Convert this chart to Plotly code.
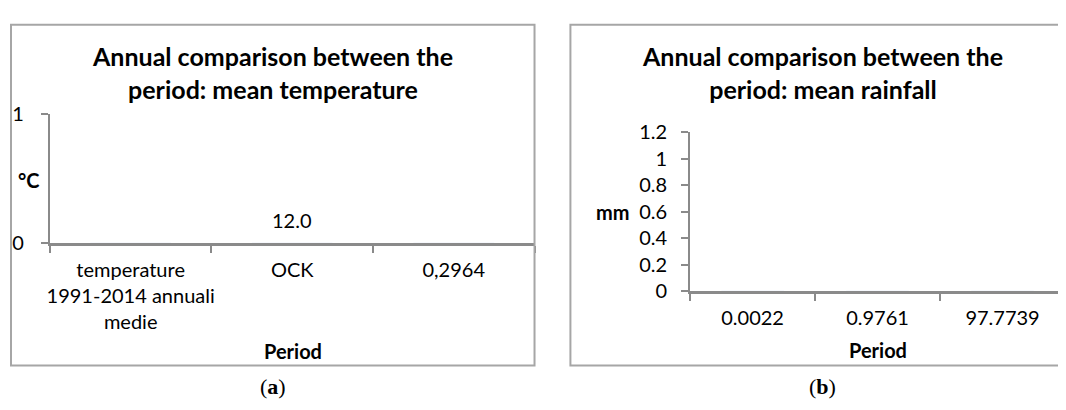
import plotly.graph_objects as go

# ---- data ----
temp_categories = ["temperature<br>1991-2014 annuali<br>medie", "OCK", "0,2964"]
temp_values = [0, 0, 0]
temp_labels = ["", "12.0", ""]
temp_yticks = [0, 1]

rain_categories = ["0.0022", "0.9761", "97.7739"]
rain_values = [0, 0, 0]
rain_yticks = [0, 0.2, 0.4, 0.6, 0.8, 1, 1.2]

W, H = 1066, 410
OFF = 8  # page offset of the figure inside the browser window
FONT = "Lato"
AX = "#8a8a8a"
BORDER = "#a6a6a6"


def px(x):
    return (x - OFF) / W


def py(y):
    return 1 - (y - OFF) / H


fig = go.Figure()

fig.add_trace(go.Bar(
    x=temp_categories, y=temp_values,
    marker=dict(color="#4f81bd"), xaxis="x", yaxis="y", showlegend=False,
))
fig.add_trace(go.Bar(
    x=rain_categories, y=rain_values,
    marker=dict(color="#4f81bd"), xaxis="x2", yaxis="y2", showlegend=False,
))

# data labels of the temperature series
for cat, val, lab in zip(temp_categories, temp_values, temp_labels):
    if lab:
        fig.add_annotation(
            x=cat, y=val, xref="x", yref="y", text=lab, showarrow=False,
            yanchor="middle", yshift=23,
            font=dict(family=FONT, size=20, color="black"),
        )

common_x = dict(
    type="category", tickson="boundaries", ticks="outside", ticklen=7,
    tickcolor=AX, tickwidth=1.5, showline=True, linecolor=AX, linewidth=2.5,
    showgrid=False, zeroline=False, fixedrange=True, tickangle=0,
    tickfont=dict(family=FONT, size=20, color="black"), ticklabelstandoff=7,
)
common_y = dict(
    ticks="outside", ticklen=7, tickcolor=AX, tickwidth=1.5,
    showline=True, linecolor=AX, linewidth=2, showgrid=False, zeroline=False,
    fixedrange=True, tickfont=dict(family=FONT, size=20, color="black"),
)

fig.update_layout(
    width=W, height=H, margin=dict(l=0, r=0, t=0, b=0),
    paper_bgcolor="white", plot_bgcolor="white", bargap=0.5,
    xaxis=dict(common_x, domain=[px(47), px(533)], range=[-0.5, 2.5], anchor="y"),
    yaxis=dict(common_y, domain=[py(244), py(107)], range=[0, 1],
               tickvals=temp_yticks, ticklabelstandoff=13, anchor="x"),
    xaxis2=dict(common_x, domain=[px(689), min(1.0, px(1065))], range=[-0.5, 2.5],
                anchor="y2"),
    yaxis2=dict(common_y, domain=[py(295), py(126)], range=[0, 1.2],
                tickvals=rain_yticks, ticktext=[f"{v:g}" for v in rain_yticks],
                ticklabelstandoff=10, anchor="x2"),
    shapes=[
        dict(type="rect", xref="paper", yref="paper", x0=px(8), y0=py(374),
             x1=px(533), y1=py(12), line=dict(color=BORDER, width=2)),
        dict(type="rect", xref="paper", yref="paper", x0=px(569), y0=py(374),
             x1=px(1085), y1=py(12), line=dict(color=BORDER, width=2)),
    ],
)


def ann(text, x, y, size, bold=False, family=FONT):
    fig.add_annotation(
        text=f"<b>{text}</b>" if bold else text, x=px(x), y=py(y),
        xref="paper", yref="paper", xanchor="center", yanchor="middle",
        showarrow=False, font=dict(family=family, size=size, color="black"),
    )


ann("Annual comparison between the<br>period: mean temperature", 270, 63, 25, True)
ann("Annual comparison between the<br>period: mean rainfall", 822, 63, 25, True)
ann("°C", 26, 177, 20, True)
ann("mm", 612, 211, 20, True)
ann("Period", 291, 359, 20, True)
ann("Period", 877, 357, 20, True)
ann("(<b>a</b>)", 271, 396, 22, family="Liberation Serif")
ann("(<b>b</b>)", 822, 396, 22, family="Liberation Serif")

fig.write_html("out.html")
